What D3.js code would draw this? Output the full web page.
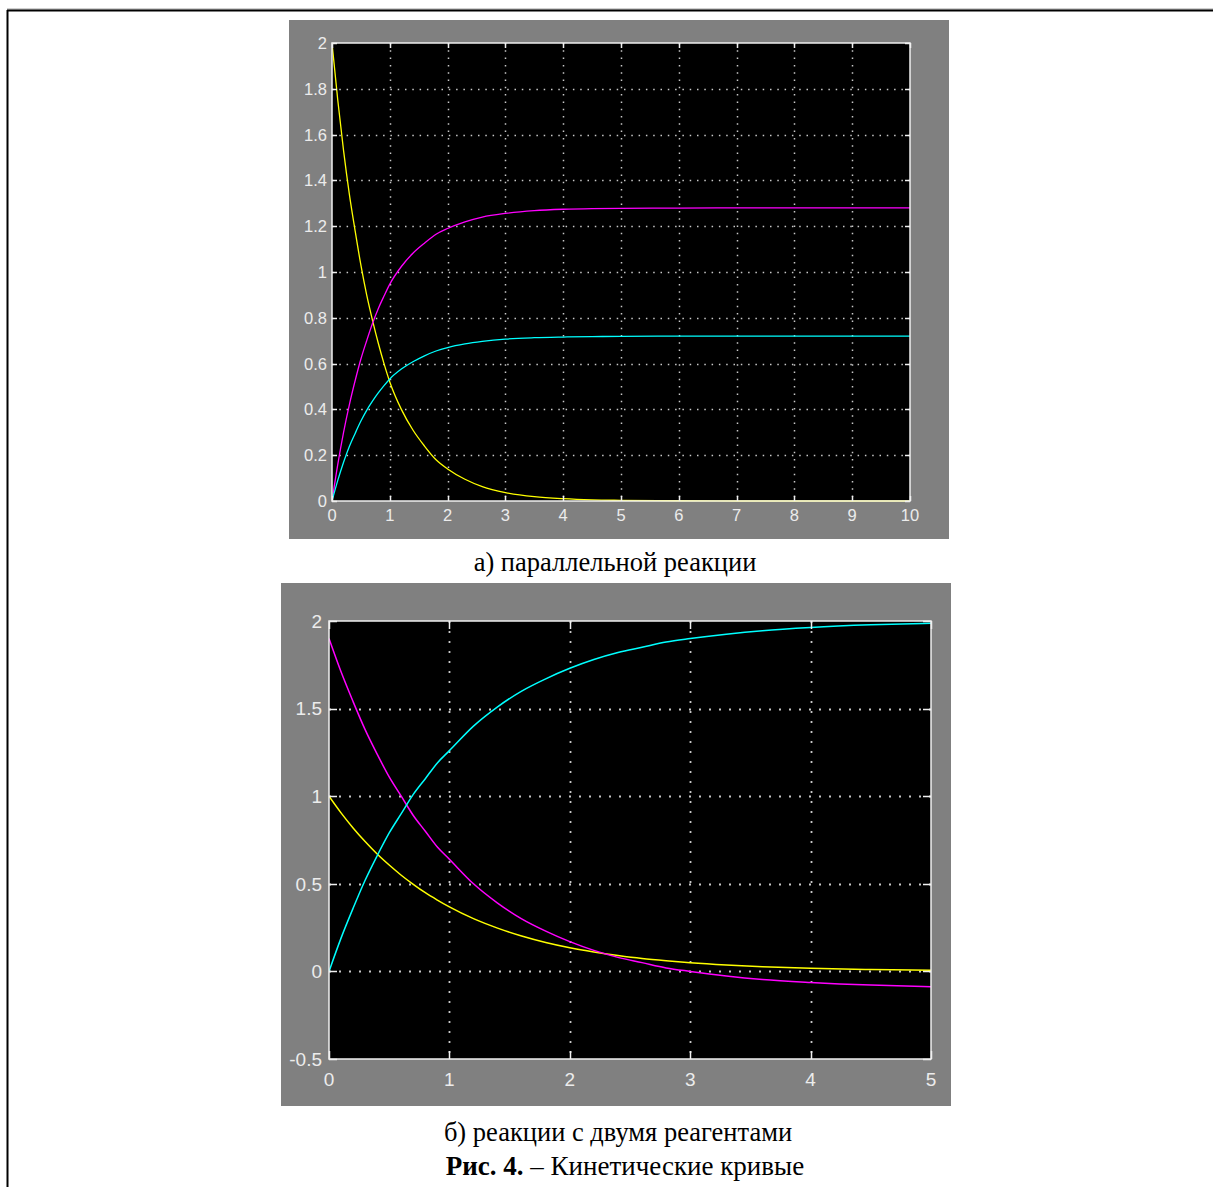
<!DOCTYPE html>
<html><head><meta charset="utf-8">
<script src="https://cdn.jsdelivr.net/npm/d3@7"></script>
<style>body{margin:0;background:#fff}svg{display:block}</style>
</head><body>
<svg id="c" width="1213" height="1187"></svg>
<script>
// ---------- Data: plot (a) parallel reaction ----------
const tA = [0,0.1,0.2,0.3,0.4,0.5,0.6,0.7,0.8,0.9,1.0,1.2,1.4,1.6,1.8,2.0,2.3,2.6,3.0,3.5,4.0,4.5,5.0,6,7,8,9,10];
const yellowA = [2.00,1.75,1.53,1.34,1.18,1.03,0.90,0.79,0.69,0.60,0.52,0.40,0.31,0.24,0.18,0.14,0.095,0.063,0.037,0.019,0.010,0.005,0.003,0.001,0,0,0,0];
const magentaA = [0,0.16,0.30,0.42,0.525,0.62,0.70,0.775,0.84,0.895,0.947,1.024,1.082,1.126,1.165,1.19,1.219,1.24,1.256,1.268,1.274,1.277,1.278,1.279,1.28,1.28,1.28,1.28];
const cyanA = [0,0.09,0.169,0.238,0.295,0.349,0.396,0.436,0.472,0.504,0.533,0.576,0.608,0.634,0.655,0.670,0.686,0.697,0.707,0.713,0.716,0.718,0.719,0.72,0.72,0.72,0.72,0.72];
const xTicksA = [0,1,2,3,4,5,6,7,8,9,10];
const yTicksA = [0,0.2,0.4,0.6,0.8,1,1.2,1.4,1.6,1.8,2];
const yLabelsA = ["0","0.2","0.4","0.6","0.8","1","1.2","1.4","1.6","1.8","2"];

// ---------- Data: plot (b) two reagents ----------
const tB = [0,0.1,0.2,0.3,0.4,0.5,0.6,0.7,0.8,0.9,1.0,1.2,1.4,1.6,1.8,2.0,2.2,2.4,2.6,2.8,3.0,3.3,3.6,4.0,4.5,5.0];
const yellowB = [1.00,0.905,0.819,0.741,0.670,0.607,0.549,0.497,0.449,0.407,0.368,0.301,0.247,0.202,0.165,0.135,0.111,0.091,0.074,0.061,0.050,0.037,0.027,0.018,0.011,0.007];
const magentaB = [1.90,1.71,1.54,1.38,1.24,1.11,1.00,0.89,0.80,0.71,0.64,0.50,0.39,0.30,0.23,0.17,0.12,0.08,0.05,0.02,0.00,-0.026,-0.046,-0.063,-0.078,-0.087];
const cyanB = [0,0.19,0.36,0.52,0.66,0.79,0.90,1.01,1.10,1.19,1.26,1.40,1.51,1.60,1.67,1.73,1.78,1.82,1.85,1.88,1.90,1.925,1.945,1.963,1.978,1.987];
const xTicksB = [0,1,2,3,4,5];
const yTicksB = [-0.5,0,0.5,1,1.5,2];
const yLabelsB = ["-0.5","0","0.5","1","1.5","2"];

const svg = d3.select("#c");

// page frame (top and left borders)
svg.append("line").attr("x1",7).attr("x2",1213).attr("y1",9).attr("y2",9).attr("stroke","#a0a0a0").attr("stroke-width",1);
svg.append("line").attr("x1",7).attr("x2",1213).attr("y1",10.5).attr("y2",10.5).attr("stroke","#000").attr("stroke-width",2);
svg.append("line").attr("x1",7.5).attr("x2",7.5).attr("y1",10).attr("y2",1187).attr("stroke","#000").attr("stroke-width",2);

function scope(cfg){
  const g = svg.append("g");
  g.append("rect").attr("x",cfg.panel[0]).attr("y",cfg.panel[1]).attr("width",cfg.panel[2]).attr("height",cfg.panel[3]).attr("fill","#808080");
  const x = d3.scaleLinear().domain(cfg.xd).range([cfg.x0,cfg.x1]);
  const y = d3.scaleLinear().domain(cfg.yd).range([cfg.y1,cfg.y0]);
  g.append("rect").attr("x",cfg.x0).attr("y",cfg.y0).attr("width",cfg.x1-cfg.x0).attr("height",cfg.y1-cfg.y0).attr("fill","#000");
  // grid
  const gc = "#c8c8c8";
  g.selectAll(".gv").data(cfg.xt.slice(1,-1)).join("line")
    .attr("x1",d=>Math.round(x(d))+0.5).attr("x2",d=>Math.round(x(d))+0.5)
    .attr("y1",cfg.y0).attr("y2",cfg.y1)
    .attr("stroke",gc).attr("stroke-width",cfg.dotw).attr("stroke-dasharray",cfg.dash);
  g.selectAll(".gh").data(cfg.yt.slice(1,-1)).join("line")
    .attr("y1",d=>Math.round(y(d))+0.5).attr("y2",d=>Math.round(y(d))+0.5)
    .attr("x1",cfg.x0).attr("x2",cfg.x1)
    .attr("stroke",gc).attr("stroke-width",cfg.dotw).attr("stroke-dasharray",cfg.dash);
  // curves
  const clipId = "clip"+cfg.id;
  g.append("clipPath").attr("id",clipId).append("rect").attr("x",cfg.x0).attr("y",cfg.y0-2).attr("width",cfg.x1-cfg.x0+1).attr("height",cfg.y1-cfg.y0+3);
  const line = d3.line().x(d=>x(d[0])).y(d=>y(d[1])).curve(d3.curveMonotoneX);
  cfg.series.forEach(s=>{
    g.append("path").attr("clip-path",`url(#${clipId})`)
      .attr("d",line(cfg.t.map((t,i)=>[t,s.v[i]])))
      .attr("fill","none").attr("stroke",s.c).attr("stroke-width",cfg.lw);
  });
  // axes box
  const ac = "#f0f0f0";
  g.append("rect").attr("x",cfg.x0).attr("y",cfg.y0).attr("width",cfg.x1-cfg.x0).attr("height",cfg.y1-cfg.y0)
    .attr("fill","none").attr("stroke",ac).attr("stroke-width",1.5);
  // inward ticks on all sides
  const tl = cfg.tl;
  cfg.xt.forEach(d=>{
    const xx = Math.round(x(d))+0.5;
    g.append("line").attr("x1",xx).attr("x2",xx).attr("y1",cfg.y1).attr("y2",cfg.y1-tl).attr("stroke",ac).attr("stroke-width",1.5);
    g.append("line").attr("x1",xx).attr("x2",xx).attr("y1",cfg.y0).attr("y2",cfg.y0+tl).attr("stroke",ac).attr("stroke-width",1.5);
  });
  cfg.yt.forEach(d=>{
    const yy = Math.round(y(d))+0.5;
    g.append("line").attr("y1",yy).attr("y2",yy).attr("x1",cfg.x0).attr("x2",cfg.x0+tl).attr("stroke",ac).attr("stroke-width",1.5);
    g.append("line").attr("y1",yy).attr("y2",yy).attr("x1",cfg.x1).attr("x2",cfg.x1-tl).attr("stroke",ac).attr("stroke-width",1.5);
  });
  // labels
  const tc = "#ececec";
  g.selectAll(".xl").data(cfg.xt).join("text")
    .attr("x",d=>x(d)).attr("y",cfg.y1+cfg.xlOff)
    .attr("text-anchor","middle").attr("fill",tc)
    .style("font-family","'Liberation Sans',Arial,sans-serif").style("font-size",cfg.fs+"px")
    .text(d=>String(d));
  g.selectAll(".yl").data(cfg.yt).join("text")
    .attr("x",cfg.x0-cfg.ylOff).attr("y",d=>y(d)).attr("dy","0.36em")
    .attr("text-anchor","end").attr("fill",tc)
    .style("font-family","'Liberation Sans',Arial,sans-serif").style("font-size",cfg.fs+"px")
    .text((d,i)=>cfg.yl[i]);
}

scope({id:"A", panel:[289,20,660,519], x0:332, x1:910, y0:43, y1:501, xd:[0,10], yd:[0,2],
  xt:xTicksA, yt:yTicksA, yl:yLabelsA, t:tA, lw:1.3, tl:5, dash:"1.5,5.8", dotw:1.5, fs:16.5, xlOff:20, ylOff:5,
  series:[{v:yellowA,c:"#ffff00"},{v:magentaA,c:"#ff00ff"},{v:cyanA,c:"#00ffff"}]});

scope({id:"B", panel:[281,583,670,523], x0:329, x1:931, y0:621, y1:1059, xd:[0,5], yd:[-0.5,2],
  xt:xTicksB, yt:yTicksB, yl:yLabelsB, t:tB, lw:1.5, tl:8, dash:"2,8", dotw:1.8, fs:19, xlOff:27, ylOff:7,
  series:[{v:yellowB,c:"#ffff00"},{v:magentaB,c:"#ff00ff"},{v:cyanB,c:"#00ffff"}]});

// captions
const serif = "'Liberation Serif','Times New Roman',serif";
svg.append("text").attr("x",615).attr("y",571).attr("text-anchor","middle")
  .style("font-family",serif).style("font-size","26.5px").attr("fill","#000").text("а) параллельной реакции");
svg.append("text").attr("x",618).attr("y",1141).attr("text-anchor","middle")
  .style("font-family",serif).style("font-size","26.5px").attr("fill","#000").text("б) реакции с двумя реагентами");
const cap = svg.append("text").attr("x",625).attr("y",1175).attr("text-anchor","middle")
  .style("font-family",serif).style("font-size","27px").attr("fill","#000");
cap.append("tspan").style("font-weight","bold").text("Рис. 4.");
cap.append("tspan").text(" – Кинетические кривые");
</script>
</body></html>
